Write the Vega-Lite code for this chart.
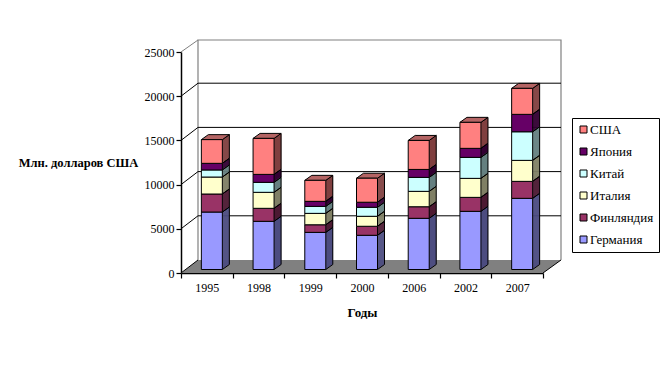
{"$schema":"https://vega.github.io/schema/vega-lite/v6.json","width":362,"height":221,"autosize":{"type":"none"},"padding":{"left":181,"top":52,"right":122,"bottom":92},"background":"white","config":{"font":"Liberation Serif","view":{"stroke":null}},
"datasets":{"rows":[
{"year":"1995","country":"Германия","n":1,"value":6500},{"year":"1995","country":"Финляндия","n":2,"value":2040},{"year":"1995","country":"Италия","n":3,"value":1920},{"year":"1995","country":"Китай","n":4,"value":800},{"year":"1995","country":"Япония","n":5,"value":750},{"year":"1995","country":"США","n":6,"value":2680},
{"year":"1998","country":"Германия","n":1,"value":5450},{"year":"1998","country":"Финляндия","n":2,"value":1470},{"year":"1998","country":"Италия","n":3,"value":1810},{"year":"1998","country":"Китай","n":4,"value":1130},{"year":"1998","country":"Япония","n":5,"value":900},{"year":"1998","country":"США","n":6,"value":4070},
{"year":"1999","country":"Германия","n":1,"value":4200},{"year":"1999","country":"Финляндия","n":2,"value":860},{"year":"1999","country":"Италия","n":3,"value":1290},{"year":"1999","country":"Китай","n":4,"value":790},{"year":"1999","country":"Япония","n":5,"value":570},{"year":"1999","country":"США","n":6,"value":2375},
{"year":"2000","country":"Германия","n":1,"value":3870},{"year":"2000","country":"Финляндия","n":2,"value":1020},{"year":"2000","country":"Италия","n":3,"value":1130},{"year":"2000","country":"Китай","n":4,"value":1020},{"year":"2000","country":"Япония","n":5,"value":570},{"year":"2000","country":"США","n":6,"value":2715},
{"year":"2006","country":"Германия","n":1,"value":5790},{"year":"2006","country":"Финляндия","n":2,"value":1310},{"year":"2006","country":"Италия","n":3,"value":1740},{"year":"2006","country":"Китай","n":4,"value":1580},{"year":"2006","country":"Япония","n":5,"value":900},{"year":"2006","country":"США","n":6,"value":3280},
{"year":"2002","country":"Германия","n":1,"value":6580},{"year":"2002","country":"Финляндия","n":2,"value":1580},{"year":"2002","country":"Италия","n":3,"value":2150},{"year":"2002","country":"Китай","n":4,"value":2375},{"year":"2002","country":"Япония","n":5,"value":1020},{"year":"2002","country":"США","n":6,"value":2940},
{"year":"2007","country":"Германия","n":1,"value":8050},{"year":"2007","country":"Финляндия","n":2,"value":1920},{"year":"2007","country":"Италия","n":3,"value":2375},{"year":"2007","country":"Китай","n":4,"value":3235},{"year":"2007","country":"Япония","n":5,"value":1970},{"year":"2007","country":"США","n":6,"value":2940}
],"wall":[{"year":"2000","v":0}],"grid":[{"year":"2000","v":5000},{"year":"2000","v":10000},{"year":"2000","v":15000},{"year":"2000","v":20000}]},
"encoding":{"x":{"field":"year","type":"nominal","sort":["1995","1998","1999","2000","2006","2002","2007"],"scale":{"paddingInner":0,"paddingOuter":0},"axis":{"title":"Годы","titleFont":"Liberation Serif","titleFontSize":13,"titleFontWeight":"bold","titleColor":"black","titleY":33,"labelAngle":0,"labelFontSize":12,"labelColor":"black","labelPadding":4,"domainColor":"black","domainWidth":1.5,"tickColor":"black","tickSize":5,"tickWidth":1.2,"tickBand":"extent","grid":false}},
"y":{"field":"v","type":"quantitative","scale":{"domain":[0,25000],"nice":false},"axis":{"title":"Млн. долларов США","titleAngle":0,"titleFontSize":12.5,"titleFontWeight":"bold","titleColor":"black","titleX":-103,"titleY":117,"titleAlign":"center","values":[0,5000,10000,15000,20000,25000],"format":"d","labelFontSize":12,"labelColor":"black","domainColor":"black","domainWidth":1.5,"tickColor":"black","tickSize":5,"tickWidth":1.2,"grid":false}}},
"layer":[
{"data":{"name":"wall"},"mark":{"type":"point","shape":"M-1.81 0L-1.64 -0.13L1.99 -0.13L1.81 0Z","size":40000,"filled":true,"fill":"#808080","stroke":"#808080","strokeWidth":0,"opacity":1}},
{"data":{"name":"wall"},"mark":{"type":"point","shape":"M-1.64 -0.13L-1.64 -2.33L1.99 -2.33L1.99 -0.13","size":40000,"filled":false,"stroke":"#808080","strokeWidth":1.2,"opacity":1}},
{"data":{"name":"wall"},"mark":{"type":"point","shape":"M-1.81 0L-1.64 -0.13M1.81 0L1.99 -0.13","size":40000,"filled":false,"stroke":"black","strokeWidth":1,"opacity":1}},
{"data":{"name":"wall"},"mark":{"type":"point","shape":"M-1.81 -2.21L-1.64 -2.33","size":40000,"filled":false,"stroke":"#808080","strokeWidth":1,"opacity":1}},
{"data":{"name":"grid"},"mark":{"type":"point","shape":"M-1.81 0L-1.64 -0.13L1.99 -0.13","size":40000,"filled":false,"stroke":"black","strokeWidth":1,"opacity":1}},
{"data":{"name":"rows"},"layer":[
{"mark":{"type":"bar","size":1.5,"xOffset":16,"yOffset":-4.2,"y2Offset":-4.2},"encoding":{"y":{"field":"y0","type":"quantitative"},"y2":{"field":"y1"},"fill":{"field":"country","scale":{"domain":["Германия","Финляндия","Италия","Китай","Япония","США"],"range":["#4d4d80","#4d1a33","#808066","#668080","#330033","#804040"]},"legend":null}}},
{"mark":{"type":"bar","size":1.5,"xOffset":17,"yOffset":-4.9,"y2Offset":-4.9},"encoding":{"y":{"field":"y0","type":"quantitative"},"y2":{"field":"y1"},"fill":{"field":"country","legend":null}}},
{"mark":{"type":"bar","size":1.5,"xOffset":18,"yOffset":-5.6,"y2Offset":-5.6},"encoding":{"y":{"field":"y0","type":"quantitative"},"y2":{"field":"y1"},"fill":{"field":"country","legend":null}}},
{"mark":{"type":"bar","size":1.5,"xOffset":19,"yOffset":-6.4,"y2Offset":-6.4},"encoding":{"y":{"field":"y0","type":"quantitative"},"y2":{"field":"y1"},"fill":{"field":"country","legend":null}}},
{"mark":{"type":"bar","size":1.5,"xOffset":20,"yOffset":-7.1,"y2Offset":-7.1},"encoding":{"y":{"field":"y0","type":"quantitative"},"y2":{"field":"y1"},"fill":{"field":"country","legend":null}}},
{"mark":{"type":"bar","size":1.5,"xOffset":21,"yOffset":-7.8,"y2Offset":-7.8},"encoding":{"y":{"field":"y0","type":"quantitative"},"y2":{"field":"y1"},"fill":{"field":"country","legend":null}}},
{"mark":{"type":"bar","size":1.5,"xOffset":22,"yOffset":-8.5,"y2Offset":-8.5},"encoding":{"y":{"field":"y0","type":"quantitative"},"y2":{"field":"y1"},"fill":{"field":"country","legend":null}}},
{"mark":{"type":"point","shape":"M1.55 0L2.25 -0.5","size":400,"filled":false,"stroke":"black","strokeWidth":1,"opacity":1,"yOffset":-3.5},"encoding":{"y":{"field":"y1","type":"quantitative"}}},
{"mark":{"type":"point","shape":"M1.55 0L2.25 -0.5","size":400,"filled":false,"stroke":"black","strokeWidth":1,"opacity":1,"yOffset":-3.5},"encoding":{"y":{"field":"y0","type":"quantitative"}}},
{"mark":{"type":"rule","color":"black","strokeWidth":1,"xOffset":22.5,"yOffset":-8.5,"y2Offset":-8.5},"encoding":{"y":{"field":"y0","type":"quantitative"},"y2":{"field":"y1"}}},
{"transform":[{"filter":"datum.n==6"}],"mark":{"type":"point","shape":"M-0.55 0L0.15 -0.5L2.25 -0.5L1.55 0Z","size":400,"filled":true,"fill":"#b46464","stroke":"black","strokeWidth":1,"opacity":1,"yOffset":-3.5},"encoding":{"y":{"field":"y1","type":"quantitative"}}},
{"mark":{"type":"bar","size":21,"xOffset":5,"yOffset":-3.5,"y2Offset":-3.5,"stroke":"black","strokeWidth":1},"encoding":{"y":{"field":"y0","type":"quantitative"},"y2":{"field":"y1"},"color":{"field":"country","type":"nominal","scale":{"domain":["США","Япония","Китай","Италия","Финляндия","Германия"],"range":["#ff8080","#660066","#ccffff","#ffffcc","#993366","#9999ff"]},"legend":{"title":null,"orient":"none","legendX":391,"legendY":66,"strokeColor":"black","fillColor":"white","padding":5,"symbolType":"square","symbolSize":49,"symbolStrokeColor":"black","symbolStrokeWidth":1,"labelFontSize":13,"labelColor":"black","labelOffset":0,"rowPadding":8,"labelLimit":100}}}}
],"transform":[{"stack":"value","groupby":["year"],"sort":[{"field":"n","order":"ascending"}],"as":["y0","y1"]}]}
]}
